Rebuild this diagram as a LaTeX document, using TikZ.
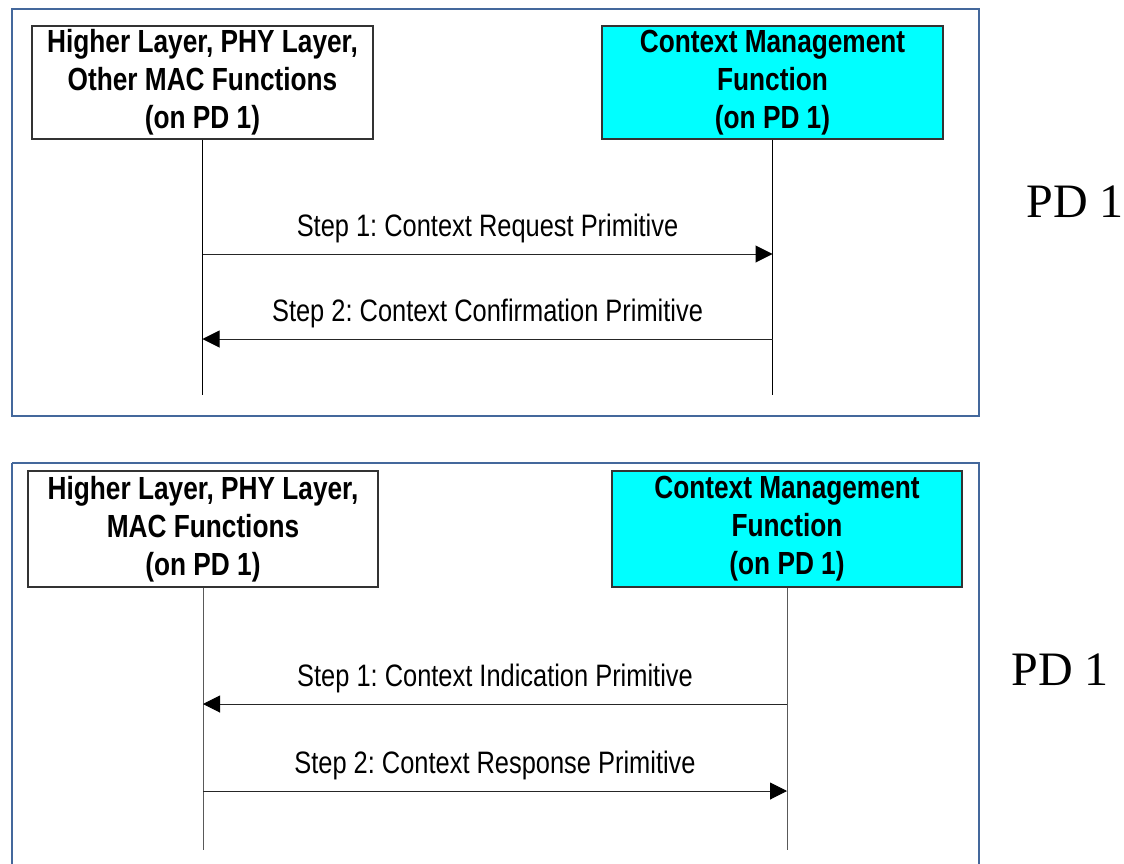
\documentclass[tikz,border=0pt]{standalone}
\usepackage{fontspec}
\setmainfont[FakeStretch=0.82]{Liberation Sans}
\newfontfamily\pdfont{Liberation Serif}
\usetikzlibrary{arrows.meta}
\definecolor{framecol}{HTML}{44689C}
\definecolor{cmcyan}{HTML}{00FFFF}
\frenchspacing
\tikzset{
  frame/.style={draw=framecol, line width=2.6pt},
  entity/.style={draw=black!80, line width=1.3pt, minimum width=341pt, minimum height=113pt,
    align=center, inner sep=0pt, font=\frenchspacing\fontsize{32}{38}\selectfont\bfseries},
  entitywide/.style={entity, minimum width=350pt, minimum height=116pt},
  cmbox/.style={fill=cmcyan},
  lifeline/.style={draw=black, line width=1pt},
  lifeline2/.style={draw=black!65, line width=1pt},
  msg/.style={draw=black!85, line width=1pt, -{Triangle[length=17pt,width=17pt,color=black]}},
  msglabel/.style={font=\frenchspacing\fontsize{31}{34}\selectfont, inner sep=0pt},
  pdlabel/.style={font=\pdfont\fontsize{48}{50}\selectfont, inner sep=0pt}
}
\begin{document}
\begin{tikzpicture}[x=1pt,y=-1pt]
\useasboundingbox (0,0) rectangle (1124,864);
% top panel
\draw[frame] (12,9) rectangle (979,416);
\node[entity] (h1) at (202.5,82.5) {Higher Layer, PHY Layer,\\Other MAC Functions\\(on PD 1)};
\node[entity, cmbox] (c1) at (772.5,82.5) {Context Management\\Function\\(on PD 1)};
\coordinate (h1end) at (h1.south |- 0,395);
\coordinate (c1end) at (c1.south |- 0,395);
\draw[lifeline] (h1.south) -- (h1end);
\draw[lifeline] (c1.south) -- (c1end);
\coordinate (m1a) at (h1.south |- 0,254);
\coordinate (m1b) at (c1.south |- 0,254);
\coordinate (m2a) at (c1.south |- 0,339);
\coordinate (m2b) at (h1.south |- 0,339);
\draw[msg] (m1a) -- node[msglabel, above=11pt] (t1) {Step 1: Context Request Primitive} (m1b);
\draw[msg] (m2a) -- node[msglabel, above=11pt] (t2) {Step 2: Context Confirmation Primitive} (m2b);
\node[pdlabel] (pd1) at (1075,202) {PD 1};
% bottom panel
\draw[frame] (12,463) -- (12,870) (12,463) -- (979,463) -- (979,870);
\node[entitywide] (h2) at (203,529) {Higher Layer, PHY Layer,\\MAC Functions\\(on PD 1)};
\node[entitywide, cmbox] (c2) at (787,529) {Context Management\\Function\\(on PD 1)};
\coordinate (h2end) at (h2.south |- 0,850);
\coordinate (c2end) at (c2.south |- 0,850);
\draw[lifeline2] (h2.south) -- (h2end);
\draw[lifeline2] (c2.south) -- (c2end);
\coordinate (m3a) at (c2.south |- 0,704);
\coordinate (m3b) at (h2.south |- 0,704);
\coordinate (m4a) at (h2.south |- 0,791);
\coordinate (m4b) at (c2.south |- 0,791);
\draw[msg] (m3a) -- node[msglabel, above=11pt] (t3) {Step 1: Context Indication Primitive} (m3b);
\draw[msg] (m4a) -- node[msglabel, above=11pt] (t4) {Step 2: Context Response Primitive} (m4b);
\node[pdlabel] (pd2) at (1060,670) {PD 1};
\end{tikzpicture}
\end{document}
